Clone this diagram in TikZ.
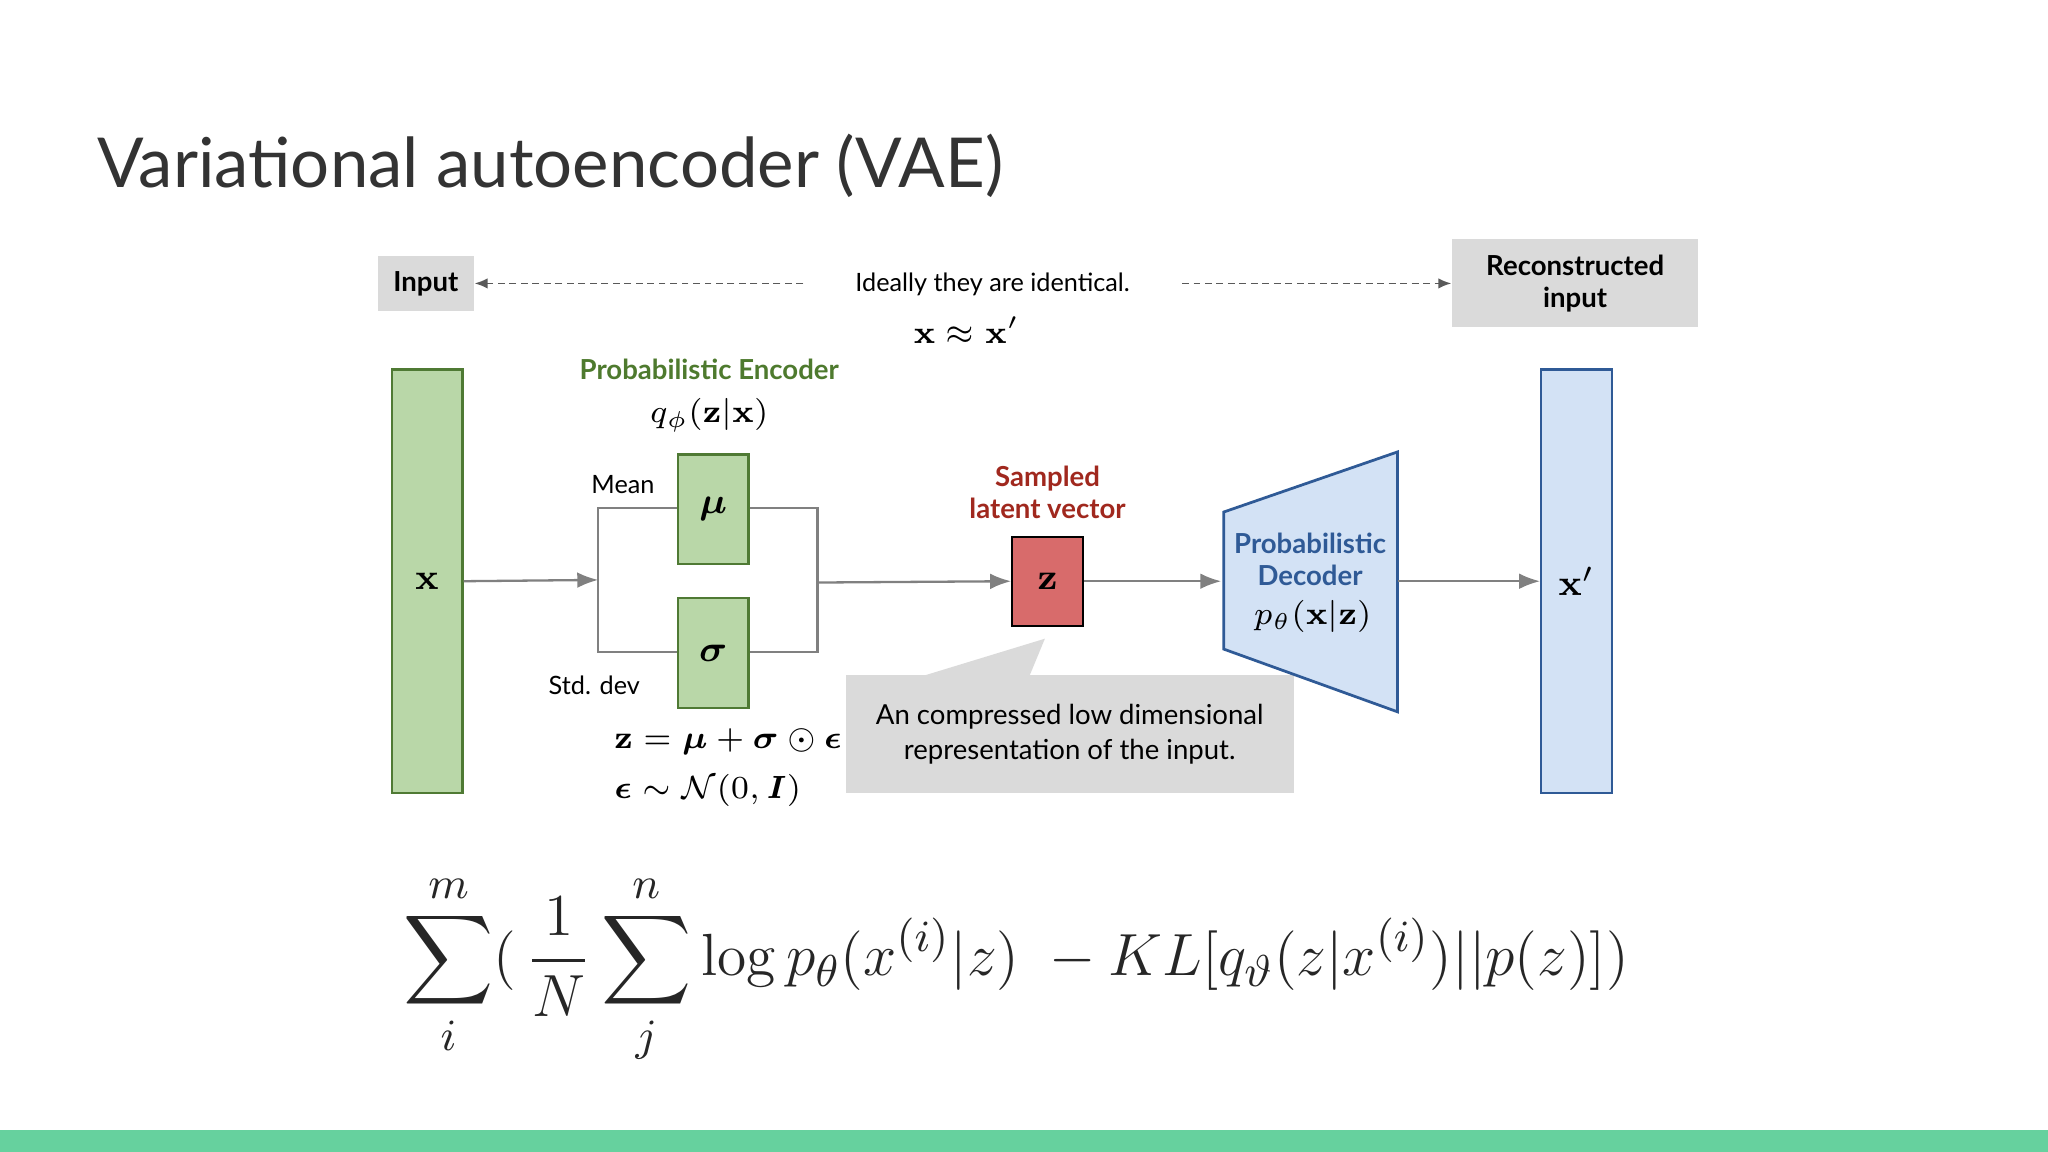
\documentclass[tikz,border=0pt]{standalone}
\usepackage{amsmath,amssymb,bm}
\usepackage[no-math]{fontspec}
\setmainfont{Lato}
\usetikzlibrary{arrows.meta,positioning,calc}
\definecolor{encGreen}{HTML}{B9D7A8}
\definecolor{encBorder}{HTML}{4F7A34}
\definecolor{encText}{HTML}{4E7A2E}
\definecolor{decBlue}{HTML}{D3E2F5}
\definecolor{decBorder}{HTML}{2F5A96}
\definecolor{zRed}{HTML}{D86B6B}
\definecolor{zText}{HTML}{A0281E}
\definecolor{boxGray}{HTML}{DADADA}
\definecolor{barGreen}{HTML}{66D19E}
\tikzset{%
  >={Latex[width=1.2mm,length=1.6mm]},
  % node styles
    base/.style = {rectangle, draw, line width=0.5pt, inner sep=0pt, font=\fontsize{6}{7}\selectfont},
    encBlock/.style = {base, fill=encGreen, draw=encBorder},
    decBlock/.style = {base, fill=decBlue, draw=decBorder},
    grayLabel/.style = {rectangle, fill=boxGray, align=center, font=\fontsize{6}{7}\selectfont\bfseries},
    plainText/.style = {align=center, font=\fontsize{5.5}{6.6}\selectfont},
    flow/.style = {->, draw=gray, line width=0.5pt},
    hint/.style = {->, dash pattern=on 1.5pt off 1pt, gray!70!black, line width=0.4pt, >={Latex[width=0.8mm,length=1mm]}},
}
\begin{document}
\begin{tikzpicture}[x=0.01cm, y=-0.01cm]
  \useasboundingbox (0,0) rectangle (1568,882);
  \fill[barGreen] (0,865) rectangle (1568,882);
  % title
  \node (title) [anchor=west, font=\fontsize{15}{18}\selectfont, text=black!80] at (62,127) {Variational autoencoder (VAE)};

  % top labels
  \node (input) [grayLabel, minimum width=0.71cm, minimum height=0.4cm] at (326,217) {Input};
  \node (recon) [grayLabel, minimum width=1.88cm, minimum height=0.66cm] at (1206,217) {Reconstructed\\input};
  \node (ideal) [plainText] at (760,218) {Ideally they are identical.};
  \node (approx) [font=\fontsize{7.5}{8}\selectfont] at (740,253) {$\mathbf{x}\approx\mathbf{x}'$};
  \coordinate (idealL) at (615,217);
  \coordinate (idealR) at (905,217);
  \draw[hint] (idealL) -- (input.east);
  \draw[hint] (idealR) -- (recon.west);

  % input and output
  \node (x) [encBlock, minimum width=0.54cm, minimum height=3.24cm, font=\fontsize{8}{9}\selectfont] at (327,445) {$\mathbf{x}$};
  \node (xr) [decBlock, minimum width=0.54cm, minimum height=3.24cm, font=\fontsize{8}{9}\selectfont] at (1207,445) {$\mathbf{x}'$};

  % encoder
  \node (encTitle) [font=\fontsize{6}{7}\selectfont\bfseries, text=encText] at (543,283) {Probabilistic Encoder};
  \node (q) [font=\fontsize{7.5}{9}\selectfont] at (543,318) {$q_\phi(\mathbf{z}|\mathbf{x})$};
  \node (mu) [encBlock, minimum width=0.54cm, minimum height=0.84cm, font=\fontsize{8}{9}\selectfont] at (546,390) {$\bm{\mu}$};
  \node (sigma) [encBlock, minimum width=0.54cm, minimum height=0.84cm, font=\fontsize{8}{9}\selectfont] at (546,500) {$\bm{\sigma}$};
  \node (mean) [plainText] at (477,371) {Mean};
  \node (std) [plainText] at (455,525) {Std. dev};
  \coordinate (split) at (458,444);
  \coordinate (merge) at (626,446);
  \draw[gray, line width=0.5pt] (mu.west |- 0,389) -| (split) |- (sigma.west |- 0,499);
  \draw[gray, line width=0.5pt] (mu.east |- 0,389) -| (merge) |- (sigma.east |- 0,499);
  \node (reparam) [font=\fontsize{6.6}{8}\selectfont, anchor=west] at (458,568) {$\mathbf{z}=\bm{\mu}+\bm{\sigma}\odot\bm{\epsilon}$};
  \node (noise) [font=\fontsize{6.6}{8}\selectfont, anchor=west] at (458,605) {$\bm{\epsilon}\sim\mathcal{N}(0,\bm{I})$};

  % latent
  \node (z) [base, fill=zRed, draw=black, minimum width=0.54cm, minimum height=0.68cm, font=\fontsize{8}{9}\selectfont] at (802,445) {$\mathbf{z}$};
  \node (zLabel) [font=\fontsize{6}{7}\selectfont\bfseries, text=zText, align=center] at (802,377) {Sampled\\latent vector};
  \node (callout) [rectangle, fill=boxGray, minimum width=3.43cm, minimum height=0.9cm, plainText, font=\fontsize{6}{7.6}\selectfont] at (819,562) {An compressed low dimensional\\representation of the input.};
  \fill[boxGray] (705,518) -- (800,489) -- (788,518) -- cycle;

  % decoder
  \draw[decBorder, fill=decBlue, line width=0.6pt] (937,392) -- (1070,346) -- (1070,545) -- (937,497) -- cycle;
  \node (dec) [font=\fontsize{6}{7}\selectfont\bfseries, text=decBorder, align=center] at (1003,428) {Probabilistic\\Decoder};
  \node (p) [font=\fontsize{7.5}{9}\selectfont] at (1005,472) {$p_\theta(\mathbf{x}|\mathbf{z})$};
  \coordinate (decIn) at (935,445);
  \coordinate (decOut) at (1070,445);

  % flow
  \draw[flow] (x.east) -- (split);
  \draw[flow] (merge) -- (z.west);
  \draw[flow] (z.east) -- (decIn);
  \draw[flow] (decOut) -- (xr.west);

  % loss
  \node (loss) [font=\fontsize{12.6}{15}\selectfont, text=black!85] at (778,742)
    {\scalebox{1.08}{$\displaystyle \sum_{i}^{m}(\,\frac{1}{N}\sum_{j}^{n}\log p_\theta(x^{(i)}|z)\;-KL[q_\vartheta(z|x^{(i)})||p(z)])$}};
\end{tikzpicture}
\end{document}
